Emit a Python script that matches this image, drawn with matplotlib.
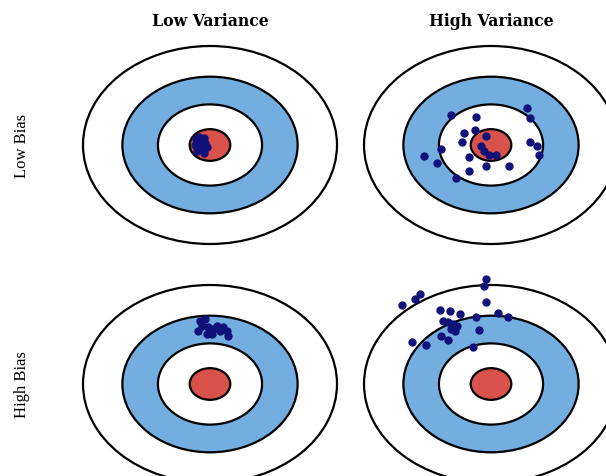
import matplotlib
matplotlib.use("Agg")
import matplotlib.pyplot as plt
from matplotlib.patches import Circle

# column / row titles
col_labels = ["Low Variance", "High Variance"]
row_labels = ["Low Bias", "High Bias"]

# ring radii (outer ring = 1)
ring_radii = [1.0, 0.69, 0.41, 0.16]
ring_colors = ["white", "#74addf", "white", "#d9534c"]

# shot positions, in target units (x right, y up)
lb_lv_x = [-0.11, -0.09, -0.07, -0.05, -0.12, -0.08, -0.04, -0.10, -0.06, -0.02, -0.09, -0.05]
lb_lv_y = [0.06, 0.08, 0.05, 0.07, 0.00, 0.01, 0.02, -0.06, -0.04, -0.02, 0.04, -0.08]

lb_hv_x = [-0.315, -0.120, 0.284, 0.310, -0.125, -0.211, -0.229, -0.041, -0.393, -0.531,
           -0.427, -0.177, -0.055, -0.016, 0.037, -0.041, 0.141, -0.172, -0.276, 0.310,
           0.362, 0.380, -0.080]
lb_hv_y = [0.303, 0.283, 0.370, 0.276, 0.156, 0.122, 0.028, 0.089, -0.041, -0.115,
           -0.184, -0.126, -0.064, -0.105, -0.099, -0.217, -0.217, -0.262, -0.330, 0.031,
           -0.013, -0.105, -0.013]

hb_lv_x = [-0.079, -0.039, -0.065, -0.092, -0.013, 0.026, 0.053, 0.079, 0.131, 0.144,
           -0.026, 0.013, 0.105]
hb_lv_y = [0.639, 0.657, 0.589, 0.538, 0.572, 0.556, 0.589, 0.538, 0.538, 0.488,
           0.505, 0.505, 0.572]

hb_hv_x = [-0.039, -0.057, -0.039, -0.560, -0.599, -0.703, -0.404, -0.326, -0.248, -0.377,
           -0.338, -0.299, -0.266, -0.313, -0.287, -0.117, 0.052, 0.130, -0.091, -0.391,
           -0.338, -0.625, -0.508, -0.143]
hb_hv_y = [1.061, 0.987, 0.825, 0.909, 0.859, 0.798, 0.751, 0.741, 0.707, 0.640,
           0.623, 0.606, 0.589, 0.556, 0.538, 0.673, 0.717, 0.673, 0.549, 0.482,
           0.448, 0.428, 0.394, 0.371]

shots = [[(lb_lv_x, lb_lv_y), (lb_hv_x, lb_hv_y)],
         [(hb_lv_x, hb_lv_y), (hb_hv_x, hb_hv_y)]]

W, H = 606, 477
fig = plt.figure(figsize=(W / 100, H / 100), dpi=100)

# target centres and radii in pixels
cx = [210, 491]
cy = [146, 385]
rx, ry = 127, 99
pad = 1.15

for r in range(2):
    for c in range(2):
        left = (cx[c] - pad * rx) / W
        bottom = 1 - (cy[r] + pad * ry) / H
        ax = fig.add_axes([left, bottom, 2 * pad * rx / W, 2 * pad * ry / H])
        ax.set_xlim(-pad, pad)
        ax.set_ylim(-pad, pad)
        ax.axis("off")
        for rad, col in zip(ring_radii, ring_colors):
            ax.add_patch(Circle((0, 0), rad, facecolor=col, edgecolor="black", lw=1.6))
        xs, ys = shots[r][c]
        ax.plot(xs, ys, "o", color="#10127a", markersize=5, zorder=5)

# column titles
for c in range(2):
    fig.text(cx[c] / W, 1 - 22 / H, col_labels[c], ha="center", va="center",
             family="DejaVu Serif", fontweight="bold", fontsize=11.3)
# row titles
for r in range(2):
    fig.text(22 / W, 1 - cy[r] / H, row_labels[r], rotation=90, ha="center", va="center",
             family="Liberation Serif", fontsize=12)

fig.savefig("out.png", dpi=100)
